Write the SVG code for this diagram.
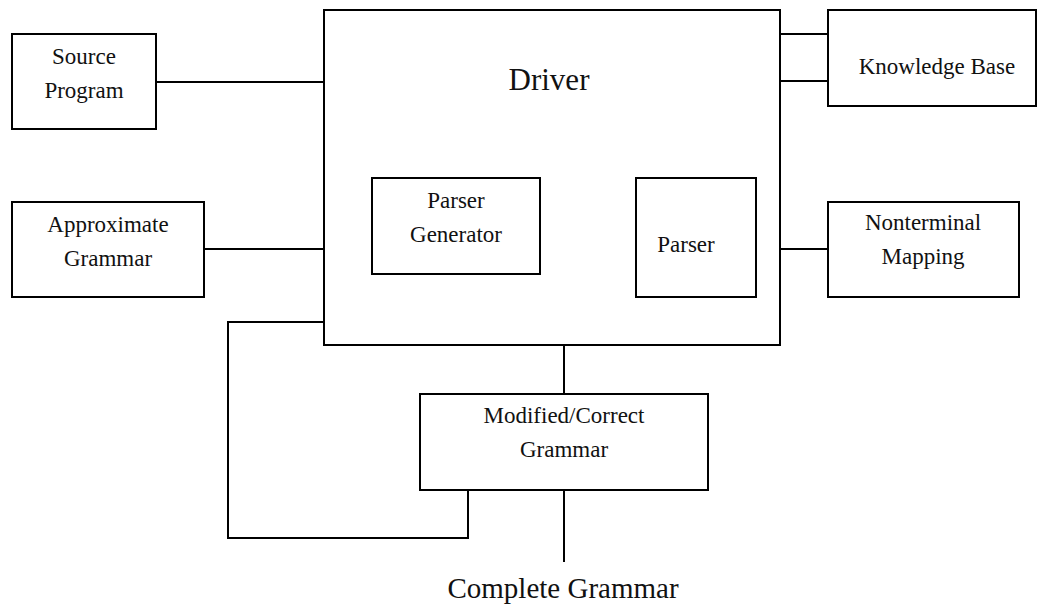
<svg xmlns="http://www.w3.org/2000/svg" width="1037" height="605" viewBox="0 0 1037 605">
<style>
rect{fill:#fff;stroke:#000;stroke-width:2}
.c{fill:none;stroke:#000;stroke-width:2}
text{font-family:"Liberation Serif","Times New Roman",serif;fill:#111;text-anchor:middle}
.l{font-size:23px}
.big{font-size:31px}
.cg{font-size:29px}
</style>
<rect x="0" y="0" width="1037" height="605" style="stroke:none"/>
<g id="connectors">
<path class="c" d="M156 82H324"/>
<path class="c" d="M204 249H324"/>
<path class="c" d="M780 34H828"/>
<path class="c" d="M780 81H828"/>
<path class="c" d="M780 249H828"/>
<path class="c" d="M540 226H636"/>
<path class="c" d="M564 345V394"/>
<path class="c" d="M564 490V562"/>
<path class="c" d="M324 322H228V538H468V490"/>
</g>
<g id="driver">
<rect x="324" y="10" width="456" height="335"/>
<text class="big" x="549" y="90">Driver</text>
</g>
<g id="source-program">
<rect x="12" y="34" width="144" height="95"/>
<text class="l" x="84" y="64">Source</text>
<text class="l" x="84" y="98">Program</text>
</g>
<g id="approximate-grammar">
<rect x="12" y="202" width="192" height="95"/>
<text class="l" x="108" y="232">Approximate</text>
<text class="l" x="108" y="266">Grammar</text>
</g>
<g id="parser-generator">
<rect x="372" y="178" width="168" height="96"/>
<text class="l" x="456" y="208">Parser</text>
<text class="l" x="456" y="242">Generator</text>
</g>
<g id="parser">
<rect x="636" y="178" width="120" height="119"/>
<text class="l" x="686" y="252">Parser</text>
</g>
<g id="knowledge-base">
<rect x="828" y="10" width="208" height="96"/>
<text class="l" x="937" y="74">Knowledge Base</text>
</g>
<g id="nonterminal-mapping">
<rect x="828" y="202" width="191" height="95"/>
<text class="l" x="923" y="230">Nonterminal</text>
<text class="l" x="923" y="264">Mapping</text>
</g>
<g id="modified-correct-grammar">
<rect x="420" y="394" width="288" height="96"/>
<text class="l" x="564" y="423">Modified/Correct</text>
<text class="l" x="564" y="457">Grammar</text>
</g>
<g id="complete-grammar">
<text class="cg" x="563" y="598">Complete Grammar</text>
</g>
</svg>
